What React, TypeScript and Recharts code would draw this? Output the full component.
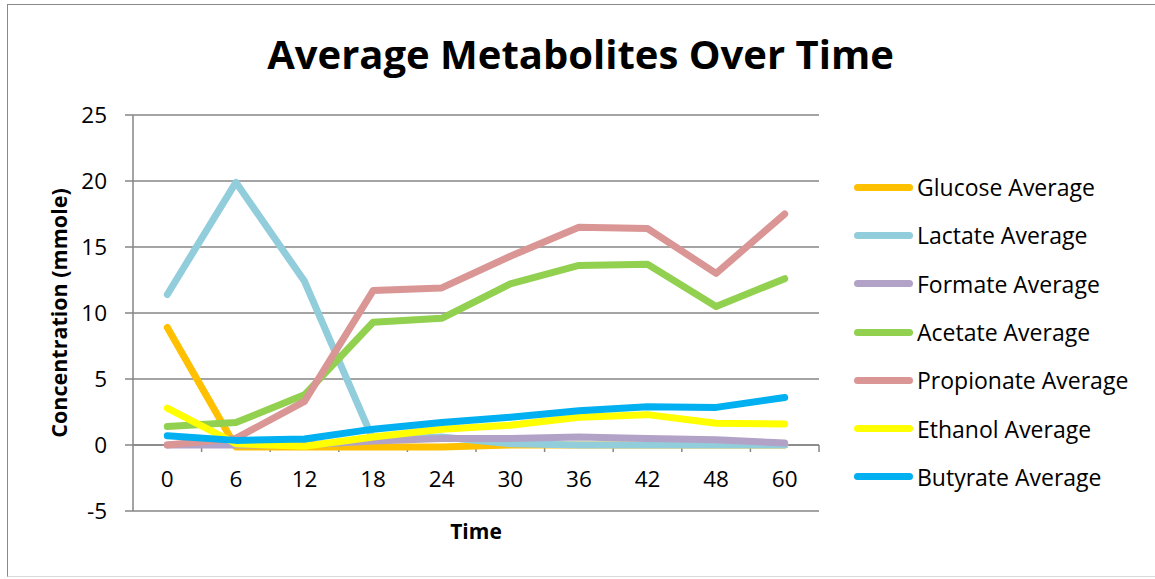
import { LineChart, Line, XAxis, YAxis, CartesianGrid, ReferenceLine } from 'recharts';

const times = ['0', '6', '12', '18', '24', '30', '36', '42', '48', '60'];
const yTicks = [-5, 0, 5, 10, 15, 20, 25];

const glucose = [8.9, -0.15, -0.15, -0.15, -0.15, 0, 0, 0, 0, 0];
const lactate = [11.4, 19.9, 12.4, 0.4, 0.6, 0.1, 0, 0, 0, 0];
const formate = [0, 0, 0, 0.3, 0.5, 0.5, 0.6, 0.5, 0.4, 0.15];
const acetate = [1.4, 1.7, 3.8, 9.3, 9.6, 12.2, 13.6, 13.7, 10.5, 12.6];
const propionate = [0, 0.5, 3.3, 11.7, 11.9, 14.3, 16.5, 16.4, 13.0, 17.5];
const ethanol = [2.8, 0.1, -0.1, 0.6, 1.2, 1.5, 2.1, 2.3, 1.65, 1.6];
const butyrate = [0.7, 0.35, 0.45, 1.2, 1.7, 2.1, 2.6, 2.9, 2.85, 3.6];

const series = [
  { key: 'glucose', name: 'Glucose Average', color: '#FFC000', values: glucose },
  { key: 'lactate', name: 'Lactate Average', color: '#92CDDC', values: lactate },
  { key: 'formate', name: 'Formate Average', color: '#B3A2C7', values: formate },
  { key: 'acetate', name: 'Acetate Average', color: '#92D050', values: acetate },
  { key: 'propionate', name: 'Propionate Average', color: '#D99694', values: propionate },
  { key: 'ethanol', name: 'Ethanol Average', color: '#FFFF00', values: ethanol },
  { key: 'butyrate', name: 'Butyrate Average', color: '#00B0F0', values: butyrate },
];

const data = times.map((t, i) => {
  const row: Record<string, string | number> = { time: t };
  series.forEach((s) => {
    row[s.key] = s.values[i];
  });
  return row;
});

const FONT = '"Open Sans", sans-serif';
const AXIS = '#868686';

function ZeroAxis(props: any) {
  const { x1, y1, x2 } = props;
  const step = (x2 - x1) / times.length;
  return (
    <g>
      <line x1={x1} y1={y1} x2={x2} y2={y1} stroke={AXIS} strokeWidth={1.5} />
      {times.map((t, i) => (
        <line key={t} x1={x1 + (i + 1) * step} x2={x1 + (i + 1) * step} y1={y1} y2={y1 + 7} stroke={AXIS} strokeWidth={1.5} />
      ))}
    </g>
  );
}

export default function App() {
  return (
    <div style={{ position: 'absolute', left: 0, top: 0, width: 1155, height: 579, background: '#fff', fontFamily: FONT }}>
      <div style={{ position: 'absolute', left: 7, top: 4, width: 1150, height: 573, borderLeft: '1.5px solid #898989', borderTop: '1.5px solid #898989', borderBottom: '1.5px solid #d9d9d9', boxSizing: 'border-box' }} />
      <div style={{ position: 'absolute', left: 0, width: 1161, top: 26, textAlign: 'center', fontSize: 40, fontWeight: 700, color: '#000', lineHeight: '56px' }}>
        Average Metabolites Over Time
      </div>
      <div style={{ position: 'absolute', left: 0, top: 0 }}>
        <LineChart width={1155} height={579} data={data} margin={{ top: 115, right: 336, bottom: 0, left: 0 }}>
          <CartesianGrid vertical={false} stroke={AXIS} strokeWidth={1.5} />
          <XAxis
            dataKey="time"
            scale="band"
            height={68}
            interval={0}
            axisLine={false}
            tickLine={false}
            tickSize={0}
            tickMargin={-40}
            tick={{ fontSize: 22.5, fill: '#000', fontFamily: FONT }}
            label={(p: any) => (
              <text x={p.viewBox.x + p.viewBox.width / 2} y={p.viewBox.y + 28} textAnchor="middle" fontSize={21} fontWeight={700} fontFamily={FONT} fill="#000">
                Time
              </text>
            )}
          />
          <YAxis
            type="number"
            width={133}
            domain={[-5, 25]}
            ticks={yTicks}
            interval={0}
            stroke={AXIS}
            tickSize={8}
            tickMargin={18}
            axisLine={{ stroke: AXIS, strokeWidth: 1.5 }}
            tickLine={{ stroke: AXIS, strokeWidth: 1.5 }}
            tick={{ fontSize: 22.5, fill: '#000', fontFamily: FONT }}
            label={(p: any) => {
              const cx = p.viewBox.x + 58;
              const cy = p.viewBox.y + p.viewBox.height / 2;
              return (
                <text x={cx} y={cy} transform={`rotate(-90 ${cx} ${cy})`} textAnchor="middle" dominantBaseline="central" fontSize={21.5} fontWeight={700} fontFamily={FONT} fill="#000">
                  Concentration (mmole)
                </text>
              );
            }}
          />
          <ReferenceLine y={0} shape={ZeroAxis} />
          {series.map((s) => (
            <Line
              key={s.key}
              type="linear"
              dataKey={s.key}
              name={s.name}
              stroke={s.color}
              strokeWidth={7}
              strokeLinecap="round"
              strokeLinejoin="round"
              dot={false}
              activeDot={false}
              isAnimationActive={false}
            />
          ))}
        </LineChart>
      </div>
      <div style={{ position: 'absolute', left: 854, top: 163 }}>
        {series.map((s) => (
          <div key={s.key} style={{ display: 'flex', alignItems: 'center', height: 48.3 }}>
            <div style={{ width: 59, height: 7, borderRadius: 4, background: s.color, marginRight: 4 }} />
            <span style={{ fontSize: 23, color: '#000', whiteSpace: 'nowrap' }}>{s.name}</span>
          </div>
        ))}
      </div>
    </div>
  );
}
